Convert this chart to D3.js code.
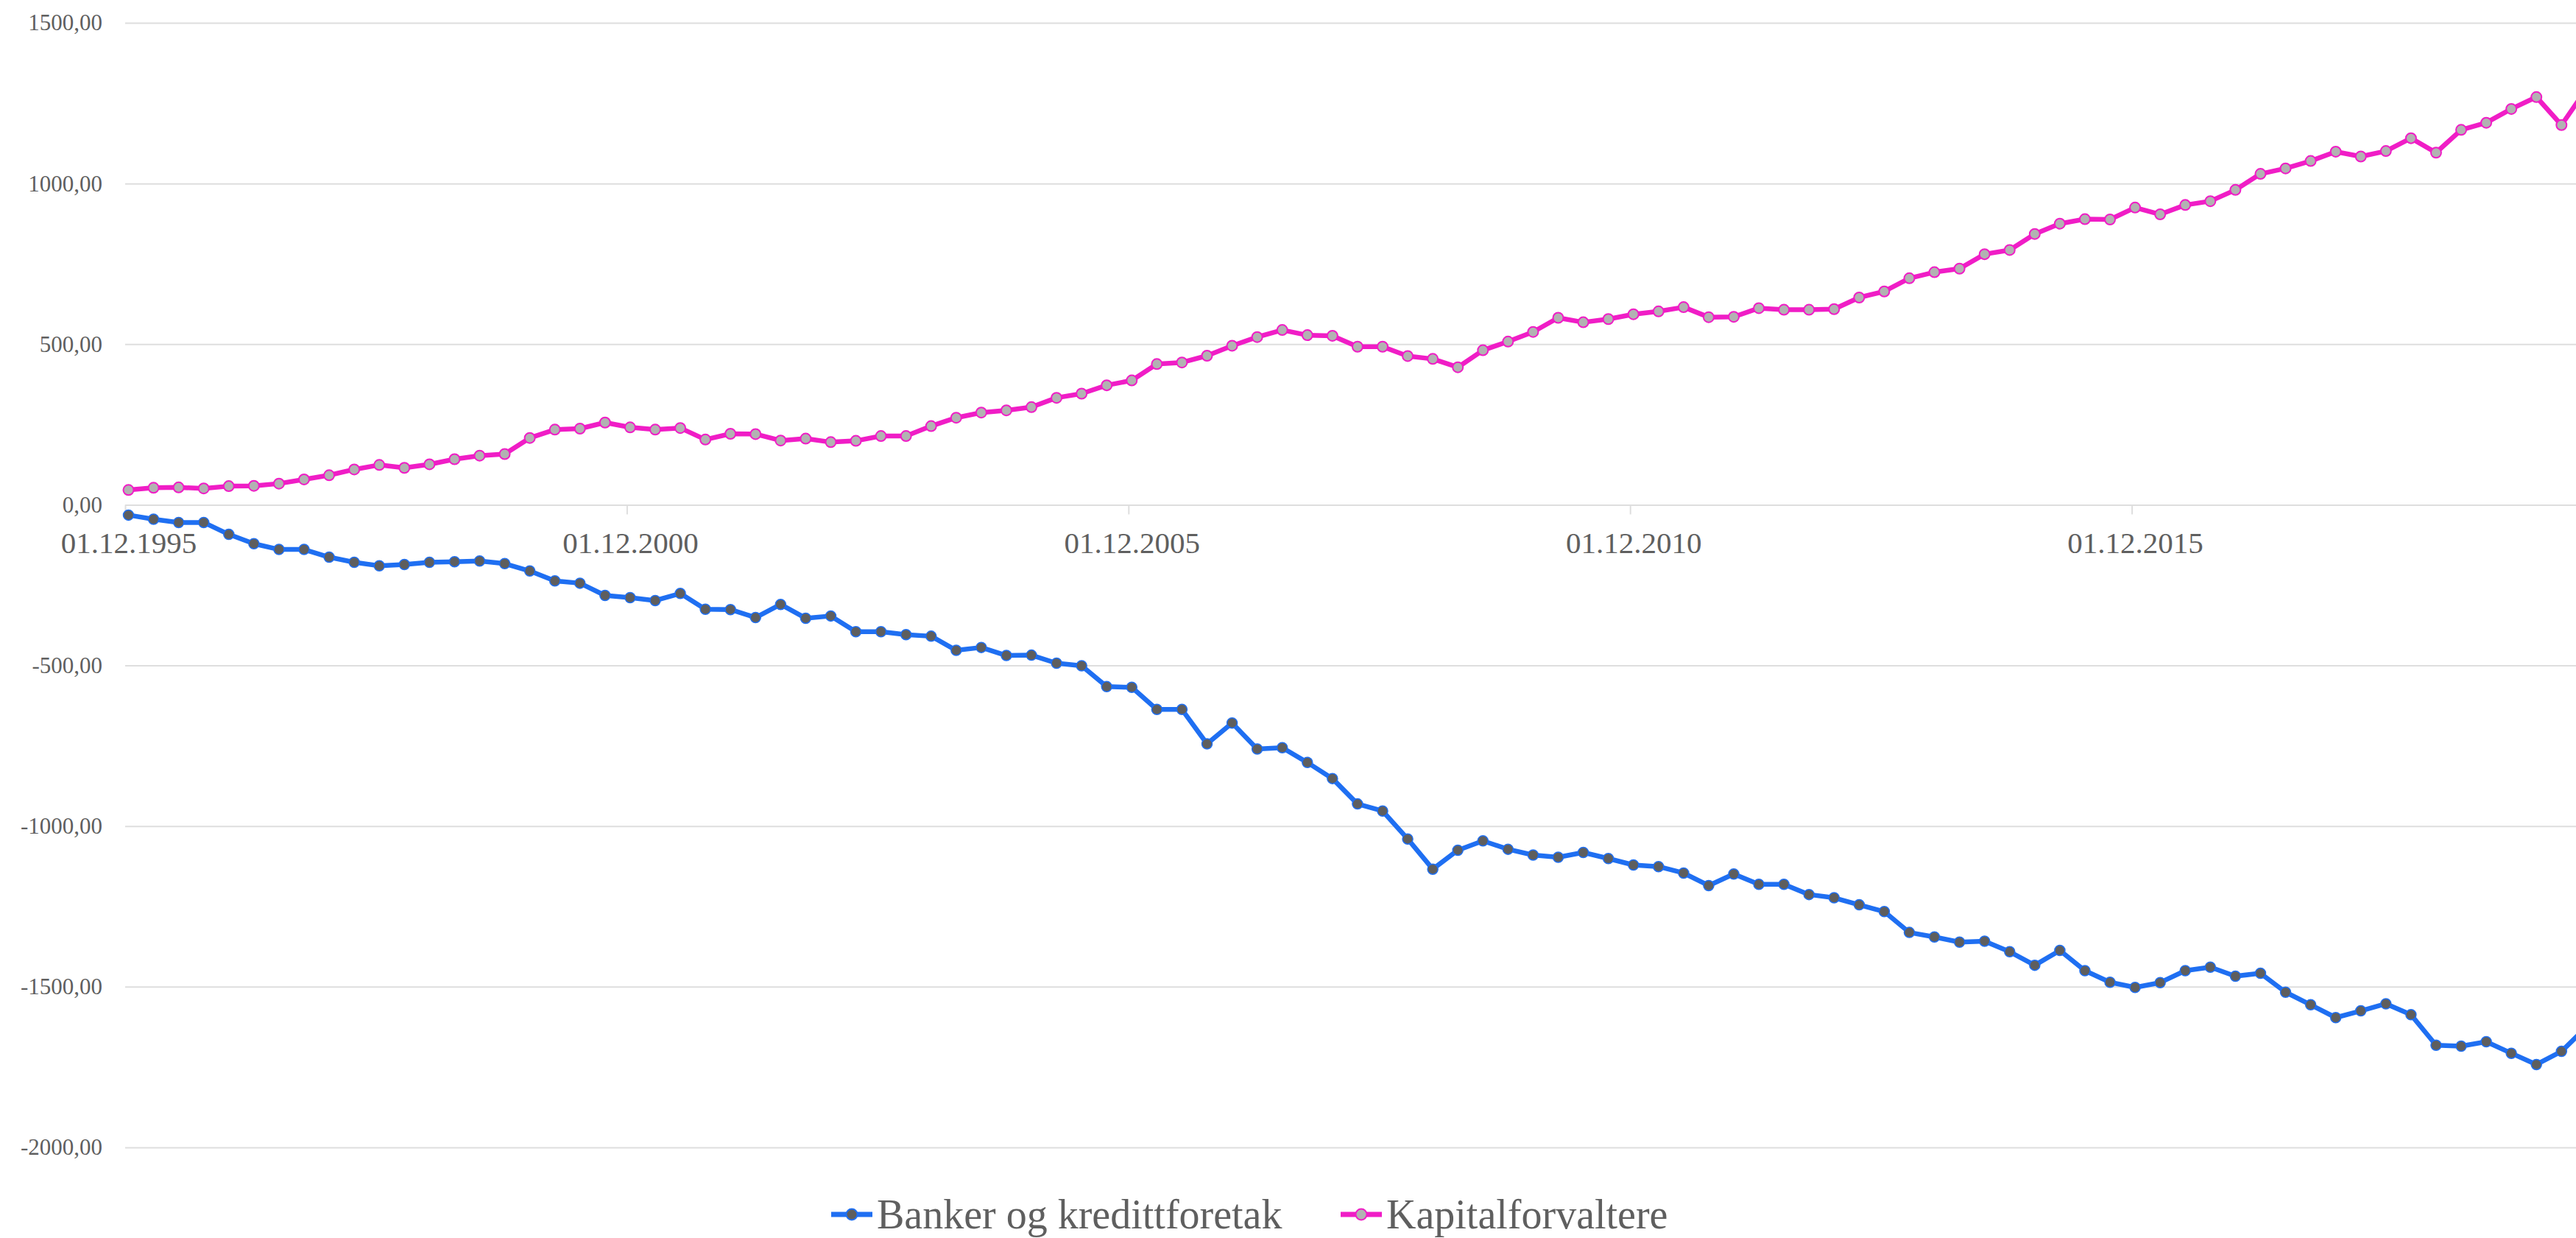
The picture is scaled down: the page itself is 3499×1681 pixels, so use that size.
<!DOCTYPE html>
<html>
<head>
<meta charset="utf-8">
<script src="https://cdn.jsdelivr.net/npm/d3@7"></script>
<style>
  body { margin: 0; background: #fff; }
  svg { display: block; }
  text { font-family: "Liberation Serif", "Times New Roman", serif; fill: #5f5f5f; }
</style>
</head>
<body>
<svg></svg>
<script>
var dates = [
  "01.12.1995",
  "01.03.1996", "01.06.1996", "01.09.1996", "01.12.1996",
  "01.03.1997", "01.06.1997", "01.09.1997", "01.12.1997",
  "01.03.1998", "01.06.1998", "01.09.1998", "01.12.1998",
  "01.03.1999", "01.06.1999", "01.09.1999", "01.12.1999",
  "01.03.2000", "01.06.2000", "01.09.2000", "01.12.2000",
  "01.03.2001", "01.06.2001", "01.09.2001", "01.12.2001",
  "01.03.2002", "01.06.2002", "01.09.2002", "01.12.2002",
  "01.03.2003", "01.06.2003", "01.09.2003", "01.12.2003",
  "01.03.2004", "01.06.2004", "01.09.2004", "01.12.2004",
  "01.03.2005", "01.06.2005", "01.09.2005", "01.12.2005",
  "01.03.2006", "01.06.2006", "01.09.2006", "01.12.2006",
  "01.03.2007", "01.06.2007", "01.09.2007", "01.12.2007",
  "01.03.2008", "01.06.2008", "01.09.2008", "01.12.2008",
  "01.03.2009", "01.06.2009", "01.09.2009", "01.12.2009",
  "01.03.2010", "01.06.2010", "01.09.2010", "01.12.2010",
  "01.03.2011", "01.06.2011", "01.09.2011", "01.12.2011",
  "01.03.2012", "01.06.2012", "01.09.2012", "01.12.2012",
  "01.03.2013", "01.06.2013", "01.09.2013", "01.12.2013",
  "01.03.2014", "01.06.2014", "01.09.2014", "01.12.2014",
  "01.03.2015", "01.06.2015", "01.09.2015", "01.12.2015",
  "01.03.2016", "01.06.2016", "01.09.2016", "01.12.2016",
  "01.03.2017", "01.06.2017", "01.09.2017", "01.12.2017",
  "01.03.2018", "01.06.2018", "01.09.2018", "01.12.2018",
  "01.03.2019", "01.06.2019", "01.09.2019", "01.12.2019",
  "01.03.2020", "01.06.2020"
];

var banker = [
  -32, -45, -55, -55, -92, -121, -139, -139, -163, -179,
  -190, -186, -179, -177, -175, -183, -206, -237, -244, -282,
  -289, -298, -276, -325, -326, -351, -310, -353, -346, -395,
  -395, -404, -409, -453, -444, -469, -468, -493, -501, -566,
  -568, -637, -637, -744, -679, -760, -756, -802, -852, -931,
  -953, -1040, -1134, -1075, -1046, -1072, -1090, -1097, -1082, -1101,
  -1121, -1126, -1146, -1185, -1149, -1181, -1181, -1213, -1223, -1245,
  -1266, -1331, -1345, -1361, -1358, -1391, -1433, -1387, -1450, -1486,
  -1502, -1487, -1450, -1439, -1467, -1458, -1517, -1556, -1596, -1575,
  -1553, -1587, -1682, -1685, -1671, -1707, -1742, -1701, -1625
];

var kapital = [
  46, 53, 54, 51, 58, 59, 66, 79, 92, 110,
  124, 115, 126, 142, 153, 158, 208, 234, 237, 256,
  241, 234, 239, 203, 221, 220, 200, 206, 195, 199,
  214, 214, 245, 271, 287, 294, 304, 333, 346, 372,
  387, 438, 443, 464, 495, 522, 544, 528, 526, 492,
  492, 463, 454, 428, 481, 508, 538, 582, 568, 578,
  593, 602, 615, 584, 585, 612, 607, 607, 609, 645,
  664, 705, 724, 735, 780, 793, 843, 875, 889, 888,
  925, 904, 933, 945, 980, 1030, 1047, 1070, 1099, 1084,
  1101, 1141, 1096, 1167, 1189, 1232, 1269, 1182, 1295
];

var seriesNames = ["Banker og kredittforetak", "Kapitalforvaltere"];
var xTickLabels = ["01.12.1995", "01.12.2000", "01.12.2005", "01.12.2010", "01.12.2015"];
var yTicks = [1500, 1000, 500, 0, -500, -1000, -1500, -2000];

var svgWidth = 3499, svgHeight = 1681;
var plotLeft = 170, firstX = 174.5, step = 34.07;
var yTop = 31, yBottom = 1558;

var svg = d3.select("svg")
    .attr("width", svgWidth)
    .attr("height", svgHeight);

var x = d3.scaleLinear()
    .domain([0, dates.length - 1])
    .range([firstX, firstX + step * (dates.length - 1)]);

var y = d3.scaleLinear()
    .domain([-2000, 1500])
    .range([yBottom, yTop]);

var locale = d3.formatLocale({decimal: ",", thousands: "", grouping: [3], currency: ["", ""], minus: "-"});
var fmt = locale.format(".2f");

// horizontal grid + y labels
var yAxis = svg.append("g")
    .attr("transform", "translate(" + plotLeft + ",0)")
    .call(d3.axisLeft(y)
        .tickValues(yTicks)
        .tickFormat(fmt)
        .tickSizeInner(-(svgWidth - plotLeft))
        .tickSizeOuter(0)
        .tickPadding(31));
yAxis.select(".domain").remove();
yAxis.selectAll("line").attr("stroke", "#dedede").attr("stroke-width", 2);
yAxis.selectAll("text").attr("font-size", 31).attr("fill", "#5f5f5f");

// x axis on the zero line
var tickIdx = xTickLabels.map(function(l) { return dates.indexOf(l); });
var xAxis = svg.append("g")
    .attr("transform", "translate(0," + y(0) + ")")
    .call(d3.axisBottom(x)
        .tickValues(tickIdx)
        .tickFormat(function(d, i) { return xTickLabels[i]; })
        .tickSizeInner(13)
        .tickSizeOuter(0));
xAxis.select(".domain").remove();
xAxis.selectAll("line").attr("stroke", "#dedede").attr("stroke-width", 2)
    .attr("x1", -4.5).attr("x2", -4.5);
xAxis.selectAll("text").attr("font-size", 41).attr("fill", "#5f5f5f")
    .attr("y", 66).attr("dy", 0);

var series = [
  {name: seriesNames[0], values: banker, line: "#1f6ff2", fill: "#5e5e5e", r: 7, sw: 1.5},
  {name: seriesNames[1], values: kapital, line: "#f01dc6", fill: "#b2b2b2", r: 7, sw: 2}
];

var line = d3.line()
    .x(function(d, i) { return x(i); })
    .y(function(d) { return y(d); });

series.forEach(function(s) {
  var g = svg.append("g");
  g.append("path")
      .attr("d", line(s.values))
      .attr("fill", "none")
      .attr("stroke", s.line)
      .attr("stroke-width", 6.5)
      .attr("stroke-linejoin", "round");
  g.selectAll("circle")
      .data(s.values)
      .enter()
      .append("circle")
      .attr("cx", function(d, i) { return x(i); })
      .attr("cy", function(d) { return y(d); })
      .attr("r", s.r)
      .attr("fill", s.fill)
      .attr("stroke", s.line)
      .attr("stroke-width", s.sw);
});

// legend
var legendPos = [1129, 1821];
var legend = svg.append("g");
series.forEach(function(s, i) {
  var lx = legendPos[i], ly = 1649;
  legend.append("line")
      .attr("x1", lx).attr("x2", lx + 56)
      .attr("y1", ly).attr("y2", ly)
      .attr("stroke", s.line)
      .attr("stroke-width", 7);
  legend.append("circle")
      .attr("cx", lx + 28).attr("cy", ly)
      .attr("r", 7.5)
      .attr("fill", s.fill)
      .attr("stroke", s.line)
      .attr("stroke-width", 2);
  legend.append("text")
      .attr("x", lx + 62)
      .attr("y", ly + 19)
      .attr("font-size", 56)
      .attr("fill", "#5f5f5f")
      .text(s.name);
});
</script>
</body>
</html>
